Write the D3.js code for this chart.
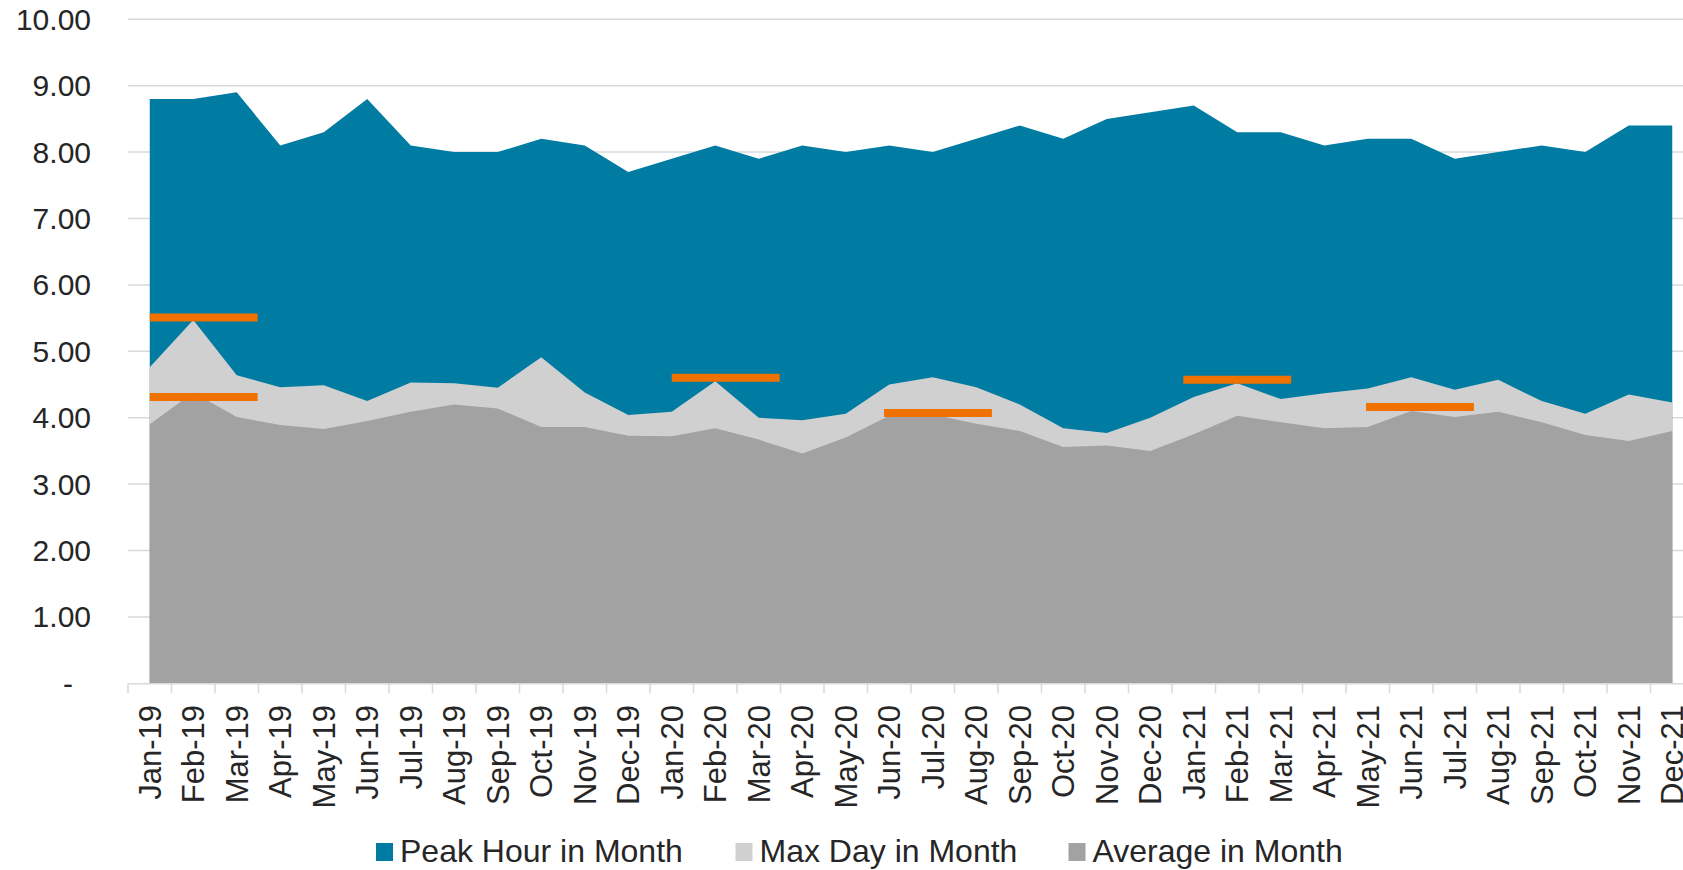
<!DOCTYPE html>
<html>
<head>
<meta charset="utf-8">
<script src="https://cdn.jsdelivr.net/npm/d3@7"></script>
<style>
    html, body { margin: 0; padding: 0; background: #fff; }
    svg { display: block; font-family: "Liberation Sans", Arial, sans-serif; }
</style>
</head>
<body>
<div id="chart"></div>
<script>
const months = [
    'Jan-19', 'Feb-19', 'Mar-19', 'Apr-19', 'May-19', 'Jun-19', 'Jul-19', 'Aug-19', 'Sep-19', 'Oct-19', 'Nov-19', 'Dec-19',
    'Jan-20', 'Feb-20', 'Mar-20', 'Apr-20', 'May-20', 'Jun-20', 'Jul-20', 'Aug-20', 'Sep-20', 'Oct-20', 'Nov-20', 'Dec-20',
    'Jan-21', 'Feb-21', 'Mar-21', 'Apr-21', 'May-21', 'Jun-21', 'Jul-21', 'Aug-21', 'Sep-21', 'Oct-21', 'Nov-21', 'Dec-21'
];

const peakHour = [
    8.80, 8.80, 8.90, 8.10, 8.30, 8.80, 8.10, 8.00, 8.00, 8.20, 8.10, 7.70,
    7.90, 8.10, 7.90, 8.10, 8.00, 8.10, 8.00, 8.20, 8.40, 8.20, 8.50, 8.60,
    8.70, 8.30, 8.30, 8.10, 8.20, 8.20, 7.90, 8.00, 8.10, 8.00, 8.40, 8.40
];

const maxDay = [
    4.76, 5.47, 4.64, 4.46, 4.49, 4.25, 4.53, 4.52, 4.45, 4.91, 4.38, 4.04,
    4.09, 4.55, 4.00, 3.96, 4.06, 4.50, 4.61, 4.46, 4.20, 3.84, 3.77, 4.00,
    4.31, 4.52, 4.28, 4.37, 4.44, 4.61, 4.42, 4.57, 4.25, 4.06, 4.35, 4.23
];

const averageMonth = [
    3.90, 4.38, 4.01, 3.89, 3.83, 3.95, 4.09, 4.20, 4.14, 3.86, 3.86, 3.73,
    3.72, 3.84, 3.67, 3.46, 3.70, 4.03, 4.05, 3.91, 3.80, 3.56, 3.58, 3.50,
    3.75, 4.03, 3.93, 3.84, 3.86, 4.10, 4.01, 4.09, 3.93, 3.74, 3.65, 3.80
];

// orange reference bars: start (in months from Jan-19 left edge) and value
const refStart = [0.5, 0.5, 12.5, 17.38, 24.26, 28.46];
const refValue = [5.51, 4.31, 4.60, 4.07, 4.57, 4.16];
const refSpan = 2.48;

const yTicks = [0, 1, 2, 3, 4, 5, 6, 7, 8, 9, 10];

const seriesNames = ['Peak Hour in Month', 'Max Day in Month', 'Average in Month'];
const seriesValues = [peakHour, maxDay, averageMonth];
const seriesColors = ['#007ca3', '#d0d0d0', '#a2a2a2'];

const config = {
    width: 1683,
    height: 870,
    left: 128,
    bandWidth: 43.5,
    top: 19.3,
    bottom: 683.3,
    axisColor: '#d9d9d9',
    textColor: '#262626',
    refColor: '#ef7100'
};

const plotRight = config.left + months.length * config.bandWidth;

const svg = d3.select('#chart')
    .append('svg')
    .attr('width', config.width)
    .attr('height', config.height);

// Scales
const xScale = d3.scaleBand()
    .domain(months)
    .range([config.left, plotRight])
    .padding(0);

const xLinear = d3.scaleLinear()
    .domain([0, months.length])
    .range([config.left, plotRight]);

const yScale = d3.scaleLinear()
    .domain([0, 10])
    .range([config.bottom, config.top]);

const xCenter = m => xScale(m) + xScale.bandwidth() / 2;

// Gridlines
svg.append('g')
    .attr('class', 'grid')
    .selectAll('line')
    .data(yTicks.filter(d => d > 0))
    .join('line')
    .attr('x1', config.left)
    .attr('x2', plotRight)
    .attr('y1', d => yScale(d))
    .attr('y2', d => yScale(d))
    .attr('stroke', config.axisColor)
    .attr('stroke-width', 1.5);

// Areas, first series at the back
const area = d3.area()
    .x(d => xCenter(d.month))
    .y0(yScale(0))
    .y1(d => yScale(d.value));

seriesValues.forEach((values, i) => {
    const rows = months.map((m, j) => ({ month: m, value: values[j] }));
    svg.append('path')
        .datum(rows)
        .attr('fill', seriesColors[i])
        .attr('d', area);
});

// Orange reference bars
svg.append('g')
    .selectAll('line')
    .data(refStart.map((s, i) => ({ start: s, value: refValue[i] })))
    .join('line')
    .attr('x1', d => xLinear(d.start))
    .attr('x2', d => xLinear(d.start + refSpan))
    .attr('y1', d => yScale(d.value))
    .attr('y2', d => yScale(d.value))
    .attr('stroke', config.refColor)
    .attr('stroke-width', 8);

// X axis
const xAxis = d3.axisBottom(xScale)
    .tickSize(0)
    .tickFormat('');

const xAxisGroup = svg.append('g')
    .attr('transform', `translate(0, ${config.bottom})`)
    .call(xAxis);
xAxisGroup.select('.domain')
    .attr('stroke', config.axisColor)
    .attr('stroke-width', 1.5);

// tick marks sit on category boundaries
xAxisGroup.selectAll('.boundary')
    .data(d3.range(months.length + 1))
    .join('line')
    .attr('class', 'boundary')
    .attr('x1', d => xLinear(d))
    .attr('x2', d => xLinear(d))
    .attr('y1', 0)
    .attr('y2', 10)
    .attr('stroke', config.axisColor)
    .attr('stroke-width', 1.5);

svg.append('g')
    .selectAll('text')
    .data(months)
    .join('text')
    .attr('transform', d => `translate(${xCenter(d)}, 705) rotate(-90)`)
    .attr('dy', '0.35em')
    .attr('text-anchor', 'end')
    .attr('fill', config.textColor)
    .style('font-size', '31px')
    .text(d => d);

// Y axis labels
svg.append('g')
    .selectAll('text')
    .data(yTicks)
    .join('text')
    .attr('x', d => d === 0 ? 73 : 91)
    .attr('y', d => yScale(d))
    .attr('dy', '0.35em')
    .attr('text-anchor', 'end')
    .attr('fill', config.textColor)
    .style('font-size', '30px')
    .text(d => d === 0 ? '-' : d3.format('.2f')(d));

// Legend
const legendX = [376, 735.5, 1068.5];
const legend = svg.append('g')
    .selectAll('g')
    .data(seriesNames)
    .join('g')
    .attr('transform', (d, i) => `translate(${legendX[i]}, 843)`);

legend.append('rect')
    .attr('width', 17)
    .attr('height', 18)
    .attr('fill', (d, i) => seriesColors[i]);

legend.append('text')
    .attr('x', 24)
    .attr('y', 19)
    .attr('fill', config.textColor)
    .style('font-size', '32px')
    .text(d => d);
</script>
</body>
</html>
